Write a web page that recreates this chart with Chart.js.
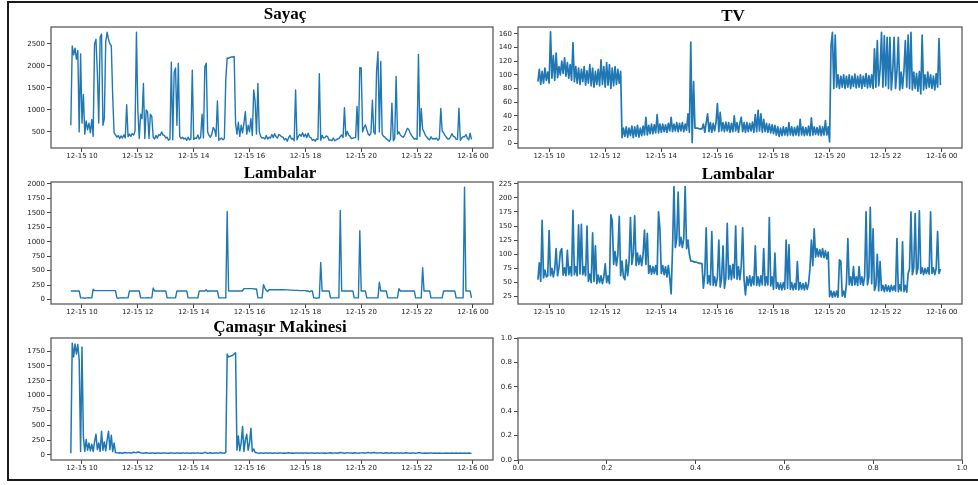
<!DOCTYPE html>
<html>
<head>
<meta charset="utf-8">
<script src="https://cdn.jsdelivr.net/npm/chart.js@4/dist/chart.umd.min.js"></script>
<style>
html,body{margin:0;padding:0;background:#fff;width:978px;height:485px;overflow:hidden;position:relative}
canvas{position:absolute}
#frame{position:absolute;left:7px;top:1px;width:1000px;height:476px;border:2px solid #1a1a1a;border-right:none}
.ttl{position:absolute;width:200px;text-align:center;font-family:'Liberation Serif',serif;font-weight:bold;font-size:17px;line-height:20px;color:#000;z-index:3}
</style>
</head>
<body>
<div id="frame"></div>
<div class="ttl" id="t1" style="left:185px;top:4px"></div>
<div class="ttl" id="t2" style="left:633px;top:6px"></div>
<div class="ttl" id="t3" style="left:180px;top:163px"></div>
<div class="ttl" id="t4" style="left:638px;top:164px"></div>
<div class="ttl" id="t5" style="left:180px;top:317px"></div>
<canvas id="c1" width="510" height="151" style="left:0px;top:17px"></canvas>
<canvas id="c2" width="511" height="151" style="left:467px;top:17px"></canvas>
<canvas id="c3" width="510" height="152" style="left:0px;top:172px"></canvas>
<canvas id="c4" width="511" height="152" style="left:467px;top:172px"></canvas>
<canvas id="c5" width="510" height="152" style="left:0px;top:328px"></canvas>
<canvas id="c6" width="511" height="152" style="left:467px;top:328px"></canvas>
<script>
// ---- data (sampled every 0.05 h, starting 12-15 09:36) ----
const sampleStartHour = 9.6;
const sampleStepHour = 0.05;

const panelTitles = ['Sayaç', 'TV', 'Lambalar', 'Lambalar', 'Çamaşır Makinesi'];

const xTickHours = [10, 12, 14, 16, 18, 20, 22, 24];
const xTickLabels = ['12-15 10', '12-15 12', '12-15 14', '12-15 16', '12-15 18', '12-15 20', '12-15 22', '12-16 00'];

const sayacTicks = [500, 1000, 1500, 2000, 2500];
const tvTicks = [0, 20, 40, 60, 80, 100, 120, 140, 160];
const lambLeftTicks = [0, 250, 500, 750, 1000, 1250, 1500, 1750, 2000];
const lambRightTicks = [25, 50, 75, 100, 125, 150, 175, 200, 225];
const camasirTicks = [0, 250, 500, 750, 1000, 1250, 1500, 1750];
const emptyTicks = [0, 0.2, 0.4, 0.6, 0.8, 1.0];

const sayacValues = [
  650, 2450, 2250, 2400, 2150, 2350, 500, 2270,
  700, 1350, 450, 750, 550, 700, 480, 780, 400, 2500, 2600, 1850, 700, 2650, 2720, 650, 800, 2550, 2760, 2600,
  2500, 2450, 1300, 480, 430, 380, 420, 350, 410, 360, 430, 360, 1120, 390, 450, 400, 460, 430, 520, 2760,
  1000, 350, 900, 800, 1600, 350, 1000, 950, 350, 900, 850, 380, 340, 420, 360, 440, 420, 500, 430, 420,
  360, 380, 310, 340, 2080, 320, 1850, 1950, 650, 2060, 400, 350, 380, 340, 360, 310, 380, 320, 340, 1900,
  330, 360, 350, 430, 340, 380, 900, 360, 1980, 2060, 500, 420, 380, 450, 600, 550, 400, 1200, 310, 340,
  360, 320, 350, 1700, 2180, 2170, 2190, 2200, 2200, 2210, 700, 450, 720, 400, 650, 480, 700, 960, 450, 650,
  500, 800, 420, 1450, 1200, 450, 1600, 500, 400, 360, 370, 340, 420, 340, 380, 360, 440, 370, 460, 390,
  360, 440, 420, 390, 380, 320, 350, 290, 370, 420, 340, 350, 300, 1450, 320, 400, 440, 400, 480, 390,
  450, 370, 470, 380, 370, 310, 330, 290, 340, 330, 1820, 310, 420, 360, 370, 410, 390, 310, 320, 300,
  360, 300, 320, 340, 350, 390, 430, 370, 1050, 400, 510, 430, 400, 350, 360, 370, 370, 1080, 320, 1960,
  1950, 500, 600, 660, 550, 450, 420, 480, 1220, 500, 450, 1870, 2320, 500, 2100, 450, 400, 380, 340, 320,
  290, 330, 1150, 300, 350, 1760, 450, 500, 430, 400, 380, 420, 500, 580, 560, 480, 420, 380, 340, 350,
  330, 2260, 400, 1030, 560, 500, 420, 380, 340, 320, 390, 340, 350, 340, 360, 310, 350, 1030, 520, 480,
  420, 380, 340, 340, 390, 460, 400, 390, 330, 330, 1040, 310, 360, 390, 390, 440, 360, 320, 470, 330
];

const tvValues = [
  90, 108, 86, 105, 88, 110, 92, 104,
  88, 163, 95, 128, 92, 132, 96, 112, 100, 120, 102, 125, 98, 118, 95, 115, 92, 147, 90, 112,
  88, 110, 86, 108, 90, 112, 85, 106, 88, 115, 84, 110, 82, 105, 86, 108, 84, 122, 86, 112,
  82, 118, 85, 115, 80, 110, 84, 112, 86, 108, 88, 105, 8, 22, 10, 24, 9, 22, 11, 25,
  8, 24, 10, 26, 9, 22, 11, 25, 12, 38, 12, 26, 14, 28, 14, 27, 15, 42, 15, 28,
  16, 28, 17, 27, 16, 29, 18, 38, 17, 28, 18, 30, 17, 29, 18, 30, 17, 28, 19, 43,
  16, 148, 1, 90, 22, 22, 22, 21, 21, 21, 28, 16, 30, 43, 17, 30, 16, 29, 18, 30,
  58, 17, 45, 18, 30, 17, 31, 18, 30, 16, 29, 17, 40, 18, 30, 16, 29, 38, 17, 30,
  16, 30, 17, 29, 18, 31, 16, 42, 17, 48, 18, 43, 16, 35, 17, 29, 16, 28, 15, 27,
  14, 26, 12, 24, 10, 22, 11, 24, 12, 23, 11, 30, 12, 24, 11, 23, 12, 25, 11, 35,
  12, 24, 11, 23, 12, 25, 11, 37, 12, 24, 13, 23, 12, 25, 11, 24, 12, 33, 12, 24,
  2, 142, 162, 80, 158, 82, 100, 80, 98, 82, 100, 80, 98, 82, 100, 80, 98, 83, 101, 81,
  98, 82, 100, 80, 98, 83, 102, 81, 99, 82, 100, 80, 138, 82, 150, 84, 108, 162, 82, 157,
  84, 155, 80, 155, 78, 106, 155, 80, 105, 155, 78, 104, 80, 106, 150, 82, 158, 80, 162, 78,
  104, 80, 102, 76, 105, 72, 158, 78, 100, 80, 104, 82, 100, 80, 98, 78, 102, 82, 153, 85
];

const lambLeftValues = [
  150, 150, 150, 150, 150, 150, 150, 30,
  30, 30, 25, 30, 30, 35, 30, 30, 180, 155, 155, 155, 155, 155, 155, 155, 155, 155, 155, 155,
  155, 155, 155, 155, 155, 30, 25, 30, 30, 35, 30, 30, 30, 30, 150, 150, 150, 150, 150, 150,
  150, 150, 30, 30, 30, 30, 30, 35, 30, 30, 30, 200, 150, 150, 150, 150, 150, 150, 150, 150,
  150, 30, 30, 30, 30, 30, 30, 30, 150, 150, 150, 150, 150, 150, 150, 150, 30, 30, 30, 30,
  30, 30, 30, 30, 150, 150, 150, 150, 150, 170, 140, 150, 150, 150, 150, 150, 150, 150, 30, 30,
  30, 30, 30, 30, 1520, 150, 150, 150, 150, 150, 150, 150, 150, 150, 150, 150, 190, 190, 190, 190,
  190, 190, 190, 185, 185, 185, 30, 30, 30, 30, 260, 200, 160, 140, 170, 170, 170, 170, 170, 170,
  170, 170, 170, 170, 170, 170, 168, 168, 168, 165, 165, 165, 160, 160, 160, 160, 155, 155, 155, 155,
  155, 150, 150, 135, 150, 150, 30, 30, 25, 30, 30, 640, 150, 150, 150, 150, 150, 150, 30, 30,
  30, 30, 30, 30, 30, 1540, 150, 150, 150, 150, 150, 150, 150, 150, 150, 30, 30, 30, 30, 1190,
  150, 150, 150, 150, 30, 30, 30, 30, 30, 30, 30, 30, 30, 300, 150, 150, 150, 150, 150, 30,
  30, 30, 30, 30, 30, 30, 30, 190, 150, 150, 150, 150, 150, 150, 150, 150, 150, 150, 150, 30,
  30, 30, 30, 30, 550, 150, 150, 150, 150, 150, 30, 30, 30, 30, 30, 30, 30, 30, 30, 150,
  150, 150, 150, 150, 150, 150, 150, 150, 30, 30, 30, 30, 30, 30, 1940, 150, 150, 150, 150, 30
];

const lambRightValues = [
  55, 85, 52, 160, 58, 72, 60, 62,
  142, 62, 75, 60, 74, 110, 62, 76, 105, 110, 63, 76, 62, 107, 64, 78, 62, 178, 64, 78,
  62, 152, 65, 153, 64, 78, 62, 150, 52, 65, 50, 138, 52, 115, 48, 63, 50, 62, 48, 60,
  83, 50, 62, 48, 170, 160, 82, 105, 80, 100, 167, 62, 88, 60, 55, 90, 62, 88, 165, 82,
  100, 168, 80, 102, 82, 98, 80, 100, 143, 82, 137, 66, 80, 65, 78, 66, 80, 64, 175, 145,
  66, 80, 64, 78, 60, 80, 58, 30, 110, 220, 112, 128, 210, 115, 130, 112, 128, 220, 110, 125,
  100, 88, 88, 87, 86, 86, 85, 84, 84, 83, 40, 65, 147, 48, 62, 46, 140, 45, 60, 44,
  60, 125, 42, 58, 115, 40, 58, 155, 56, 80, 55, 82, 58, 150, 56, 78, 55, 80, 147, 55,
  28, 60, 45, 62, 44, 60, 46, 115, 45, 60, 44, 62, 46, 110, 45, 60, 46, 165, 44, 60,
  38, 102, 40, 50, 38, 49, 37, 50, 38, 125, 40, 117, 38, 50, 37, 48, 38, 87, 37, 50,
  38, 48, 37, 50, 38, 48, 75, 125, 80, 145, 95, 110, 96, 108, 95, 110, 94, 106, 92, 104,
  25, 35, 24, 34, 25, 35, 24, 90, 88, 26, 35, 24, 48, 128, 46, 60, 45, 78, 46, 60,
  45, 78, 47, 60, 45, 62, 175, 46, 60, 183, 48, 145, 36, 45, 100, 35, 87, 36, 45, 34,
  46, 35, 44, 34, 45, 36, 44, 35, 128, 34, 46, 35, 122, 34, 45, 33, 66, 75, 175, 64,
  76, 172, 65, 75, 177, 66, 76, 64, 75, 66, 76, 65, 175, 66, 76, 64, 75, 140, 66, 74
];

const camasirValues = [
  30, 1880, 1650, 1870, 1700, 1860, 1600, 60,
  1820, 300, 60, 260, 80, 200, 70, 180, 60, 220, 350, 90, 200, 60, 400, 80, 220, 70, 250, 400,
  90, 330, 60, 200, 40, 35, 32, 38, 34, 30, 36, 40, 33, 35, 38, 32, 36, 45, 40, 38,
  50, 45, 38, 32, 30, 34, 36, 32, 30, 28, 33, 35, 30, 28, 32, 34, 30, 29, 33, 35,
  32, 30, 28, 33, 35, 31, 29, 30, 34, 32, 30, 28, 33, 31, 30, 35, 32, 30, 29, 31,
  33, 30, 32, 35, 31, 30, 28, 32, 45, 34, 30, 32, 36, 30, 29, 33, 35, 31, 30, 40,
  32, 35, 30, 45, 1700, 1650, 1660, 1670, 1680, 1700, 1720, 80, 320, 70, 200, 480, 60, 250, 350, 80,
  200, 450, 60, 100, 45, 38, 32, 30, 34, 31, 29, 33, 35, 30, 32, 34, 30, 28, 33, 31,
  30, 33, 35, 31, 29, 32, 30, 34, 36, 31, 30, 33, 29, 32, 35, 30, 31, 34, 30, 32,
  31, 34, 30, 32, 35, 33, 30, 29, 32, 34, 30, 31, 33, 30, 32, 29, 31, 34, 36, 30,
  32, 35, 33, 30, 38, 42, 36, 33, 30, 34, 38, 35, 31, 33, 30, 36, 34, 31, 30, 33,
  35, 38, 34, 31, 36, 40, 35, 32, 38, 42, 36, 34, 31, 35, 38, 33, 30, 34, 36, 32,
  30, 33, 36, 31, 29, 32, 35, 30, 33, 31, 29, 32, 38, 34, 31, 30, 33, 35, 31, 30,
  32, 36, 38, 33, 30, 29, 32, 28, 30, 33, 31, 27, 29, 32, 30, 28, 31, 29, 27, 30,
  28, 31, 29, 27, 30, 32, 28, 30, 33, 29, 27, 31, 30, 28, 32, 29, 30, 31, 28, 30
];

// ---- rendering ----
const LINE_COLOR = '#1f77b4';
const TICK_FONT = { family: "'DejaVu Sans', sans-serif", size: 7 };

['t1', 't2', 't3', 't4', 't5'].forEach((id, i) => { document.getElementById(id).textContent = panelTitles[i]; });

function toPoints(values) {
  return values.map((v, i) => ({ x: sampleStartHour + i * sampleStepHour, y: v }));
}

const framePlugin = {
  id: 'axesFrame',
  afterDraw(chart) {
    const a = chart.chartArea, ctx = chart.ctx;
    ctx.save();
    ctx.strokeStyle = '#5c5c5c';
    ctx.lineWidth = 1.3;
    ctx.strokeRect(a.left, a.top, a.right - a.left, a.bottom - a.top);
    ctx.restore();
  }
};

function makePanel(id, p) {
  const isEmpty = !p.values;
  new Chart(document.getElementById(id), {
    type: 'line',
    data: {
      datasets: isEmpty ? [] : [{
        data: toPoints(p.values),
        borderColor: LINE_COLOR,
        borderWidth: p.lineWidth || 1.5,
        borderJoinStyle: 'round',
        pointRadius: 0,
        fill: false,
        tension: 0
      }]
    },
    options: {
      responsive: false,
      animation: false,
      events: [],
      layout: { padding: { top: 10, right: p.padRight, left: 0, bottom: 0 } },
      plugins: { legend: { display: false }, tooltip: { enabled: false }, title: { display: false } },
      scales: {
        x: {
          type: 'linear',
          min: p.xMin, max: p.xMax,
          afterFit: s => { s.height = 20; },
          afterBuildTicks: s => { s.ticks = p.xTicks.map(v => ({ value: v })); },
          ticks: {
            autoSkip: false, maxRotation: 0, padding: 0, color: '#222', font: TICK_FONT,
            callback: (v, i) => p.xLabels[i]
          },
          grid: { drawOnChartArea: false, drawTicks: true, tickLength: 4, color: '#444' },
          border: { display: false }
        },
        y: {
          min: p.yMin, max: p.yMax,
          afterFit: s => { s.width = 51; },
          afterBuildTicks: s => { s.ticks = p.yTicks.map(v => ({ value: v })); },
          ticks: {
            autoSkip: false, padding: 2, color: '#222', font: TICK_FONT,
            callback: v => p.yFmt ? p.yFmt(v) : String(v)
          },
          grid: { drawOnChartArea: false, drawTicks: true, tickLength: 4, color: '#444' },
          border: { display: false }
        }
      }
    },
    plugins: [framePlugin]
  });
}

const X_MIN = 8.89, X_MAX = 24.72;

makePanel('c1', { values: sayacValues, xMin: X_MIN, xMax: X_MAX, yMin: 135, yMax: 2880,
  xTicks: xTickHours, xLabels: xTickLabels, yTicks: sayacTicks, padRight: 17, lineWidth: 1.4 });
makePanel('c2', { values: tvValues, xMin: X_MIN, xMax: X_MAX, yMin: -7, yMax: 170,
  xTicks: xTickHours, xLabels: xTickLabels, yTicks: tvTicks, padRight: 16, lineWidth: 1.7 });
makePanel('c3', { values: lambLeftValues, xMin: X_MIN, xMax: X_MAX, yMin: -75, yMax: 2030,
  xTicks: xTickHours, xLabels: xTickLabels, yTicks: lambLeftTicks, padRight: 17, lineWidth: 1.4 });
makePanel('c4', { values: lambRightValues, xMin: X_MIN, xMax: X_MAX, yMin: 12, yMax: 228,
  xTicks: xTickHours, xLabels: xTickLabels, yTicks: lambRightTicks, padRight: 16, lineWidth: 1.7 });
makePanel('c5', { values: camasirValues, xMin: X_MIN, xMax: X_MAX, yMin: -85, yMax: 1970,
  xTicks: xTickHours, xLabels: xTickLabels, yTicks: camasirTicks, padRight: 17, lineWidth: 1.5 });
makePanel('c6', { values: null, xMin: 0, xMax: 1, yMin: 0, yMax: 1,
  xTicks: emptyTicks, xLabels: emptyTicks.map(v => v.toFixed(1)), yTicks: emptyTicks,
  yFmt: v => Number(v).toFixed(1), padRight: 16 });
</script>
</body>
</html>
